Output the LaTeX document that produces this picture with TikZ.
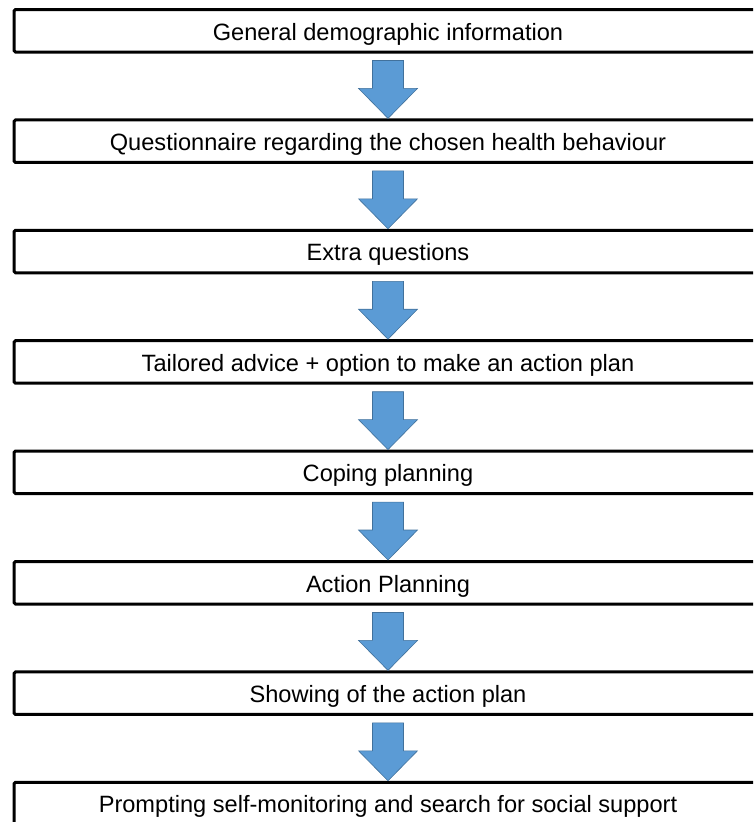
\documentclass[tikz,border=0pt]{standalone}
\usepackage{fontspec}
\setmainfont{Liberation Sans}
\usetikzlibrary{calc}
\definecolor{arrowblue}{RGB}{91,155,213}
\definecolor{arrowedge}{RGB}{65,113,156}
\newcommand\flowarrow[2]{%
  \draw[flowarr] ($(#1.south)+(-15.5,7)$) -- ($(#1.south)+(15.5,7)$)
    -- ($(#2.north)+(15.5,-30)$) -- ($(#2.north)+(29.5,-30)$)
    -- (#2.north) -- ($(#2.north)+(-29.5,-30)$)
    -- ($(#2.north)+(-15.5,-30)$) -- cycle;}
\begin{document}
\begin{tikzpicture}[x=1pt,y=-1pt,
  stagebox/.style={draw=black, line width=3pt, rounded corners=1.5pt, fill=white,
    minimum width=748pt, minimum height=42.5pt, inner sep=0pt,
    text height=18.5pt, text depth=0pt,
    font=\fontsize{23.6}{28}\selectfont},
  flowarr/.style={fill=arrowblue, draw=arrowedge, line width=0.6pt, line join=miter}]
\useasboundingbox (0,0) rectangle (753,822);
\clip (0,0) rectangle (753,822);
\node[stagebox] (b1) at (388,30.75) {General demographic information};
\node[stagebox] (b2) at (388,141.15) {Questionnaire regarding the chosen health behaviour};
\node[stagebox] (b3) at (388,251.55) {Extra questions};
\node[stagebox] (b4) at (388,361.95) {Tailored advice + option to make an action plan};
\node[stagebox] (b5) at (388,472.35) {Coping planning};
\node[stagebox] (b6) at (388,582.75) {Action Planning};
\node[stagebox] (b7) at (388,693.15) {Showing of the action plan};
\node[stagebox] (b8) at (388,803.55) {Prompting self-monitoring and search for social support};
\flowarrow{b1}{b2}
\flowarrow{b2}{b3}
\flowarrow{b3}{b4}
\flowarrow{b4}{b5}
\flowarrow{b5}{b6}
\flowarrow{b6}{b7}
\flowarrow{b7}{b8}
\end{tikzpicture}
\end{document}
